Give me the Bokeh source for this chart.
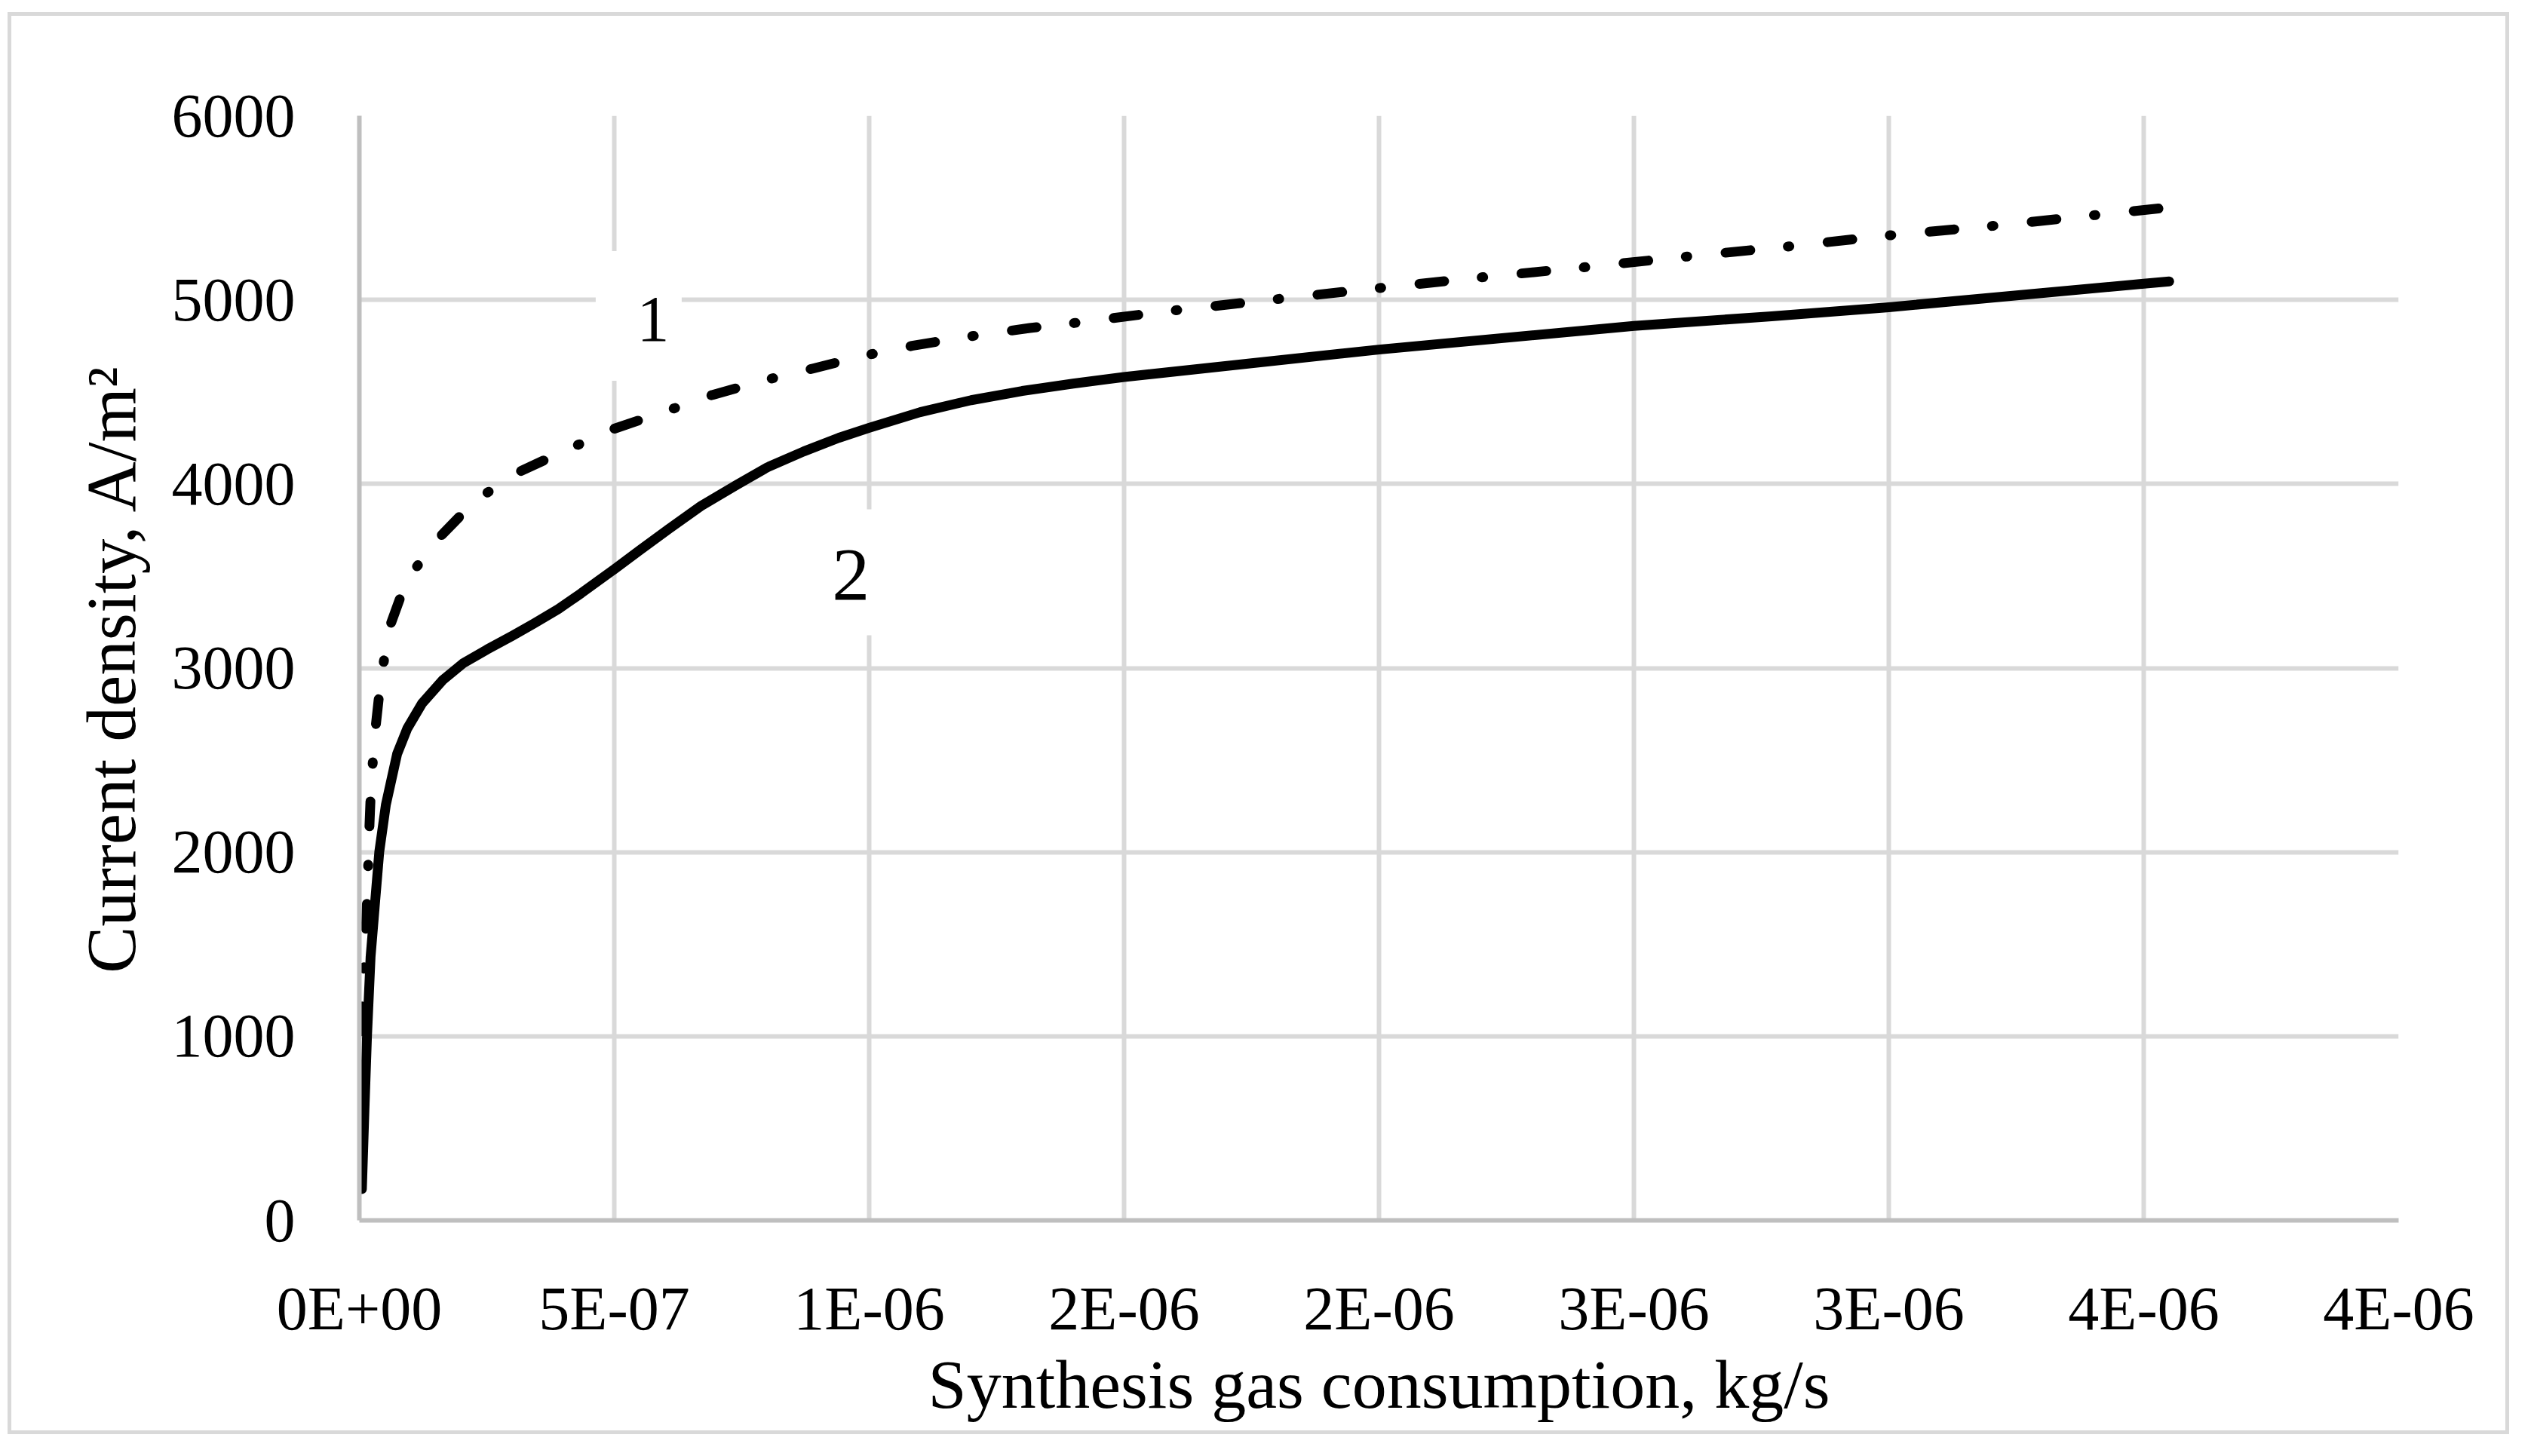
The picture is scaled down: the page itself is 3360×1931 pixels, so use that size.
import math
from bokeh.plotting import figure
from bokeh.models import FixedTicker, CustomJSTickFormatter, Label
from bokeh.embed import file_html
from bokeh.resources import INLINE

# ---------------- data ----------------
x_ticks = [0, 5e-7, 1e-6, 1.5e-6, 2e-6, 2.5e-6, 3e-6, 3.5e-6, 4e-6]
x_tick_labels = ["0E+00", "5E-07", "1E-06", "2E-06", "2E-06", "3E-06", "3E-06", "4E-06", "4E-06"]
y_ticks = [0, 1000, 2000, 3000, 4000, 5000, 6000]

# curve 1 (dash-dot)
curve1_x = [3e-9, 6e-9, 1.2e-8, 1.6e-8, 1.9e-8, 2.3e-8, 3.1e-8, 4.2e-8, 5.9e-8, 9.3e-8,
            1.56e-7, 2.27e-7, 3.12e-7, 4.04e-7, 5.0e-7, 5.94e-7, 6.93e-7, 7.9e-7, 8.9e-7,
            9.85e-7, 1.084e-6, 1.186e-6, 1.315e-6, 1.39e-6, 1.59e-6, 1.80e-6, 2.0e-6,
            2.2e-6, 2.41e-6, 2.61e-6, 2.81e-6, 3.0e-6, 3.22e-6, 3.42e-6, 3.55e-6]
curve1_y = [880, 1240, 1520, 1810, 2087, 2368, 2656, 2936, 3220, 3480,
            3707, 3909, 4064, 4182, 4300, 4388, 4484, 4560, 4627,
            4694, 4750, 4797, 4847, 4870, 4940, 5004, 5064,
            5122, 5179, 5237, 5292, 5350, 5406, 5465, 5502]

# curve 2 (solid)
curve2_x = [5e-9, 1.0e-8, 1.5e-8, 2.2e-8, 3.0e-8, 3.9e-8, 5.2e-8, 7.4e-8, 9.4e-8, 1.23e-7,
            1.63e-7, 2.03e-7, 2.5e-7, 3.0e-7, 3.42e-7, 3.9e-7, 4.35e-7, 5.0e-7, 5.5e-7,
            6.07e-7, 6.7e-7, 7.4e-7, 8.0e-7, 8.72e-7, 9.4e-7, 1.0e-6, 1.1e-6, 1.2e-6,
            1.3e-6, 1.4e-6, 1.5e-6, 2.0e-6, 2.5e-6, 2.77e-6, 3.0e-6, 3.5e-6, 3.55e-6]
curve2_y = [170, 600, 1000, 1430, 1700, 2000, 2257, 2533, 2672, 2808,
            2933, 3025, 3100, 3175, 3241, 3320, 3406, 3537, 3640,
            3756, 3880, 3995, 4090, 4177, 4250, 4305, 4390, 4455,
            4505, 4545, 4581, 4730, 4858, 4911, 4960, 5088, 5100]

curve_labels = ["1", "2"]

FONT = "Liberation Serif"
GRID = "#d9d9d9"
AXIS = "#bfbfbf"

FRAME_W, FRAME_H = 2694, 1455
X_MAX, Y_MAX = 4e-6, 6000

p = figure(width=3317, height=1886, output_backend="svg", toolbar_location=None,
           x_range=(0, X_MAX), y_range=(0, Y_MAX),
           min_border_left=461, min_border_right=152, min_border_top=132, min_border_bottom=289,
           margin=(16, 0, 0, 10))
p.styles = {"border": "5px solid #d9d9d9"}
p.outline_line_color = None
p.background_fill_color = "white"
p.border_fill_color = "white"

# axes
for ax in (p.xaxis[0], p.yaxis[0]):
    ax.axis_line_color = AXIS
    ax.axis_line_width = 6
    ax.major_tick_line_color = None
    ax.minor_tick_line_color = None
    ax.major_label_text_font = FONT
    ax.major_label_text_font_size = "82px"
    ax.major_label_text_color = "black"
    ax.axis_label_text_font = FONT
    ax.axis_label_text_font_style = "normal"
    ax.axis_label_text_color = "black"
p.xaxis.axis_label_text_font_size = "92px"
p.yaxis.axis_label_text_font_size = "93px"

p.xaxis.ticker = FixedTicker(ticks=x_ticks)
p.xaxis.formatter = CustomJSTickFormatter(args=dict(labels=x_tick_labels),
                                          code="return labels[Math.round(tick / 5e-7)];")
p.yaxis.ticker = FixedTicker(ticks=y_ticks)
p.xaxis.axis_label = "Synthesis gas consumption, kg/s"
p.yaxis.axis_label = "Current density, A/m\u00b2"
p.xaxis.major_label_standoff = 65
p.yaxis.major_label_standoff = 79
p.xaxis.axis_label_standoff = 1
p.yaxis.axis_label_standoff = 26

p.xgrid.ticker = FixedTicker(ticks=x_ticks)
p.ygrid.ticker = FixedTicker(ticks=y_ticks)
for g in (p.xgrid[0], p.ygrid[0]):
    g.grid_line_color = GRID
    g.grid_line_width = 6

# dash phase so that the dash-dot line ends on a dash, as in the original
PERIOD = 136
L = 0.0
for i in range(1, len(curve1_x)):
    dx = (curve1_x[i] - curve1_x[i - 1]) * FRAME_W / X_MAX
    dy = (curve1_y[i] - curve1_y[i - 1]) * FRAME_H / Y_MAX
    L += math.hypot(dx, dy)
dash_offset = int(round((33 - L) % PERIOD))

# curves
p.line(curve1_x, curve1_y, line_color="black", line_width=13, line_cap="round",
       line_join="round", line_dash="33 50 2 51", line_dash_offset=dash_offset)
p.line(curve2_x, curve2_y, line_color="black", line_width=13, line_cap="round",
       line_join="round")

# curve labels with white boxes
p.rect(x=[5.479e-7, 9.258e-7], y=[4913, 3520], width=[114, 125], height=[172, 167],
       width_units="screen", height_units="screen", fill_color="white", line_color=None)
p.add_layout(Label(x=5.761e-7, y=4895, text=curve_labels[0], text_font=FONT,
                   text_color="black", text_font_size="86px", text_align="center",
                   text_baseline="alphabetic"))
p.add_layout(Label(x=9.64e-7, y=3507, text=curve_labels[1], text_font=FONT,
                   text_color="black", text_font_size="100px", text_align="center",
                   text_baseline="alphabetic"))

open("out.html", "w").write(file_html(p, INLINE))
